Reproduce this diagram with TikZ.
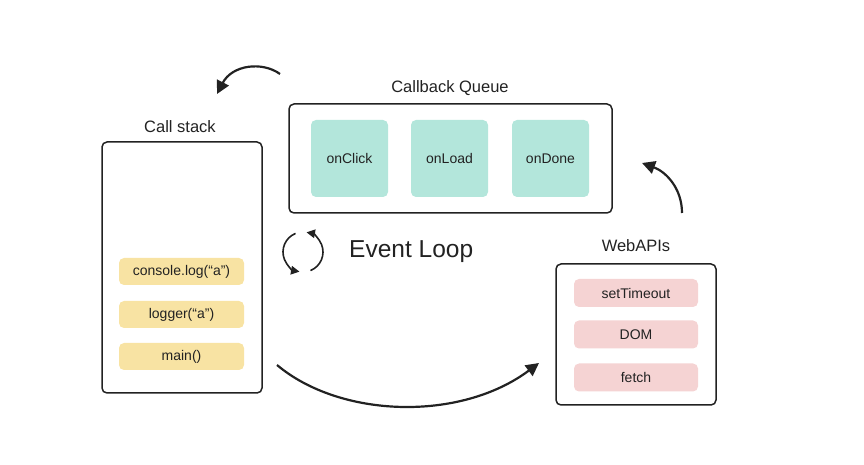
\documentclass[tikz,border=0pt]{standalone}
\usepackage{fontspec}
\setmainfont{Liberation Sans}
\usetikzlibrary{arrows.meta}
\definecolor{ylw}{HTML}{F8E3A3}
\definecolor{teal2}{HTML}{B3E6DB}
\definecolor{pink2}{HTML}{F5D3D3}
\definecolor{ink}{HTML}{222222}
\begin{document}
\begin{tikzpicture}[x=1pt,y=1pt,
  outerbox/.style={draw=ink,line width=1.5pt,rounded corners=5pt,minimum width=#1},
  title/.style={font=\fontsize{16.5}{18}\selectfont,text=ink},
  item/.style={font=\fontsize{14}{16}\selectfont,text=ink,rounded corners=5pt,inner sep=0pt},
  ybox/.style={item,fill=ylw,minimum width=125pt,minimum height=27pt},
  tbox/.style={item,fill=teal2,minimum width=77pt,minimum height=77pt},
  pbox/.style={item,fill=pink2,minimum width=124pt,minimum height=28pt},
  flow/.style={draw=ink,line width=2.2pt,-{Triangle[length=13pt,width=13pt]}},
  loop/.style={draw=ink,line width=1.6pt,-{Triangle[length=8.5pt,width=8.5pt]}}]
\useasboundingbox (0,0) rectangle (864,465);
% Call stack
\node[outerbox=160pt,minimum height=251pt] (cs) at (182,197.5) {};
\node[title] (cst) at (180,338) {Call stack};
\node[ybox] (c1) at (181.5,193.5) {console.log(“a”)};
\node[ybox] (c2) at (181.5,150.5) {logger(“a”)};
\node[ybox] (c3) at (181.5,108.5) {main()};
% Callback queue
\node[outerbox=323pt,minimum height=109pt] (cq) at (450.5,306.5) {};
\node[title] (cqt) at (450,377) {Callback Queue};
\node[tbox] (q1) at (349.5,306.5) {onClick};
\node[tbox] (q2) at (449.5,306.5) {onLoad};
\node[tbox] (q3) at (550.5,306.5) {onDone};
% Web APIs
\node[outerbox=160pt,minimum height=141pt] (wa) at (636,130.5) {};
\node[title] (wat) at (636,219) {WebAPIs};
\node[pbox] (w1) at (636,172) {setTimeout};
\node[pbox] (w2) at (636,130.5) {DOM};
\node[pbox] (w3) at (636,87.5) {fetch};
% Event loop
\coordinate (el) at (303,213);
\node[anchor=west,font=\fontsize{24.5}{28}\selectfont,text=ink,inner sep=0pt] (elt) at (349,213) {Event Loop};
\draw[loop] ([shift={(112:20pt)}]el) arc[start angle=112, end angle=260, radius=20pt];
\draw[loop] ([shift={(-68:20pt)}]el) arc[start angle=-68, end angle=80, radius=20pt];
% Flow arrows
\coordinate (a1s) at (280,391);
\coordinate (a1e) at (217,371);
\draw[flow] (a1s) .. controls (262,404) and (232,400) .. (a1e);
\coordinate (a2s) at (682,252);
\coordinate (a2e) at (642,302);
\draw[flow] (a2s) to[out=90,in=-20] (a2e);
\coordinate (a3s) at (277,100);
\coordinate (a3e) at (539,102);
\draw[flow] (a3s) .. controls (340,47) and (460,43) .. (a3e);
\end{tikzpicture}
\end{document}
